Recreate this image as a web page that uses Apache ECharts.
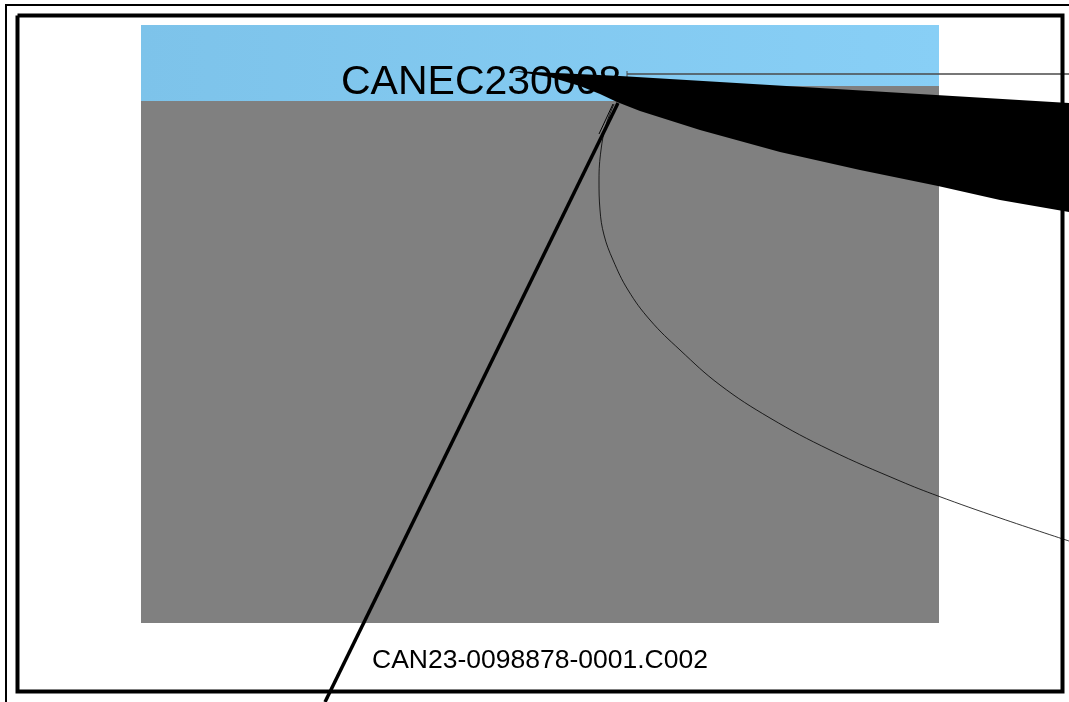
<!DOCTYPE html>
<html><head><meta charset="utf-8">
<script src="https://cdn.jsdelivr.net/npm/echarts@6/dist/echarts.min.js"></script>
<style>html,body{margin:0;padding:0;background:#fff;overflow:hidden}#c{width:1069px;height:702px}</style>
</head><body><div id="c"></div>
<script>
// ---- data (drawing coordinates in a 1069 x 702 value space) ----
const titleText = 'CANEC230008';
const captionText = 'CAN23-0098878-0001.C002';
const titleAnchor = [341, 62];
const captionAnchor = [372, 647];
const blueBox = [141, 25, 939, 101];
const grayBox = [141, 101, 939, 623];
const grayStrip = [780, 86, 939, 101];
const outerFrame = [[6, 702], [6, 5], [1069, 5]];
const innerFrame = [[17.5, 15.5], [1062.5, 15.5], [1062.5, 691.5], [17.5, 691.5], [17.5, 15.5]];
const wedge = [[513, 71], [620, 76], [1069, 103], [1069, 212], [1000, 200], [938, 186], [860, 170], [780, 152], [700, 130], [640, 111], [617, 102], [600, 94], [580, 86], [550, 77], [513, 71]];
const diagonal = [[618, 103], [325, 702]];
const thinPair = [[613, 104], [599, 134]];
const hairline = [[627, 74], [1069, 74]];
const hairTick = [[627, 71], [627, 77]];
const curve = [[614, 104], [606, 125], [601, 150], [599, 180], [600, 210], [604, 235], [613, 260], [628, 290], [650, 320], [680, 350], [720, 385], [770, 418], [830, 450], [900, 481], [938, 496], [1000, 518], [1069, 541]];

const chart = echarts.init(document.getElementById('c'), null, {renderer: 'canvas'});

function rectSeries(box, color, z) {
  return {
    type: 'custom', z: z, silent: true, animation: false,
    data: [box],
    renderItem: function (params, api) {
      const p0 = api.coord([box[0], box[1]]);
      const p1 = api.coord([box[2], box[3]]);
      return {type: 'rect', shape: {x: p0[0], y: p0[1], width: p1[0] - p0[0], height: p1[1] - p0[1]}, style: {fill: color}};
    }
  };
}
function lineSeries(pts, color, width, z) {
  return {
    type: 'line', z: z, silent: true, animation: false, symbol: 'none', data: pts,
    lineStyle: {color: color, width: width, join: 'miter', cap: 'butt'}
  };
}
function textSeries(txt, anchor, size, z) {
  return {
    type: 'custom', z: z, silent: true, animation: false, data: [anchor],
    renderItem: function (params, api) {
      const p = api.coord(anchor);
      return {type: 'text', x: p[0], y: p[1], style: {text: txt, fill: '#000', font: size + 'px "Liberation Sans", Arial, sans-serif', align: 'left', verticalAlign: 'top'}};
    }
  };
}

chart.setOption({
  animation: false,
  grid: {left: 0, right: 0, top: 0, bottom: 0},
  xAxis: {type: 'value', min: 0, max: 1069, show: false},
  yAxis: {type: 'value', min: 0, max: 702, inverse: true, show: false},
  series: [
    rectSeries(blueBox, new echarts.graphic.LinearGradient(0, 0, 1, 0, [{offset: 0, color: '#7DC3EA'}, {offset: 1, color: '#88CFF6'}]), 1),
    rectSeries(grayBox, '#808080', 2),
    rectSeries(grayStrip, '#808080', 2),
    textSeries(titleText, titleAnchor, 41, 3),
    lineSeries(hairline, '#4a4a4a', 1.5, 4),
    lineSeries(hairTick, '#4a4a4a', 1, 4),
    {
      type: 'custom', z: 5, silent: true, animation: false, data: wedge,
      renderItem: function (params, api) {
        if (params.dataIndex !== 0) return null;
        return {type: 'polygon', shape: {points: wedge.map(function (p) { return api.coord(p); })}, style: {fill: '#000'}};
      }
    },
    lineSeries(diagonal, '#000', 3.5, 6),
    lineSeries(thinPair, '#000', 1, 6),
    Object.assign(lineSeries(curve, '#000', 0.8, 6), {smooth: 0.4}),
    lineSeries(outerFrame, '#000', 2, 7),
    lineSeries(innerFrame, '#000', 4, 7),
    textSeries(captionText, captionAnchor, 26.5, 8)
  ]
});
</script>
</body></html>
